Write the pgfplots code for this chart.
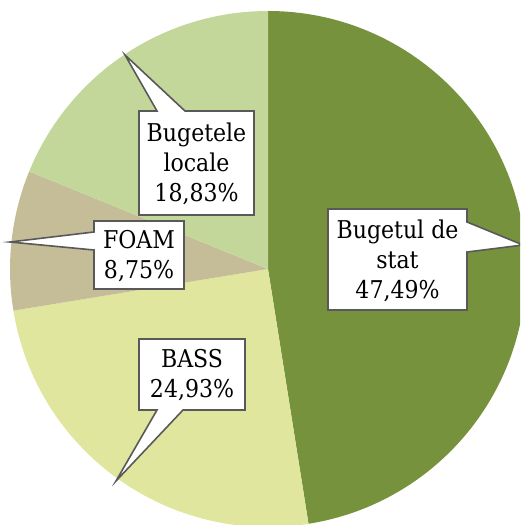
\documentclass[border=0pt]{standalone}
\usepackage{pgfplots}
\pgfplotsset{compat=1.18}
\usepackage{fontspec}
\setmainfont{DejaVu Serif Condensed}
\definecolor{cStat}{HTML}{76923C}
\definecolor{cBass}{HTML}{E0E69D}
\definecolor{cFoam}{HTML}{C4BD97}
\definecolor{cLoc}{HTML}{C4D79B}
\definecolor{cEdge}{HTML}{595959}
% shares (%), clockwise from 12 o'clock
\def\vA{47.49}\def\vB{24.93}\def\vC{8.75}\def\vD{18.83}
\pgfmathsetmacro\aA{90}
\pgfmathsetmacro\aB{\aA-3.6*\vA}
\pgfmathsetmacro\aC{\aB-3.6*\vB}
\pgfmathsetmacro\aD{\aC-3.6*\vC}
\pgfmathsetmacro\aE{\aD-3.6*\vD}
\begin{document}
\begin{tikzpicture}
\useasboundingbox (0,0) rectangle (520pt,525pt);
\begin{axis}[
  at={(0,0)}, anchor=south west,
  scale only axis, width=520pt, height=525pt,
  xmin=0, xmax=520, ymin=0, ymax=525,
  hide axis, clip=true,
]
\def\cx{268}\def\cy{256}\def\R{258}
\fill[cStat] (axis cs:\cx,\cy) -- ++(\aA:\R pt) arc[start angle=\aA, end angle=\aB, radius=\R pt] -- cycle;
\fill[cBass] (axis cs:\cx,\cy) -- ++(\aB:\R pt) arc[start angle=\aB, end angle=\aC, radius=\R pt] -- cycle;
\fill[cFoam] (axis cs:\cx,\cy) -- ++(\aC:\R pt) arc[start angle=\aC, end angle=\aD, radius=\R pt] -- cycle;
\fill[cLoc] (axis cs:\cx,\cy) -- ++(\aD:\R pt) arc[start angle=\aD, end angle=\aE, radius=\R pt] -- cycle;
% callouts
\tikzset{call/.style={fill=white, draw=cEdge, line width=1.6pt, line join=miter},
  lab/.style={align=center, font=\fontsize{24.5}{30}\selectfont, inner sep=0pt}}
\draw[call] (axis cs:139,310) -- (axis cs:139,414) -- (axis cs:157,414) -- (axis cs:125,470) -- (axis cs:185,414) -- (axis cs:254,414) -- (axis cs:254,310) -- cycle;
\node[lab] at (axis cs:196.5,361) {Bugetele\\locale\\18,83\%};
\draw[call] (axis cs:94,236) -- (axis cs:94,275) -- (axis cs:10,283) -- (axis cs:94,293) -- (axis cs:94,304) -- (axis cs:184,304) -- (axis cs:184,236) -- cycle;
\node[lab] at (axis cs:139,269) {FOAM\\8,75\%};
\draw[call] (axis cs:139,115) -- (axis cs:157,115) -- (axis cs:116,44) -- (axis cs:183,115) -- (axis cs:245,115) -- (axis cs:245,186) -- (axis cs:139,186) -- cycle;
\node[lab] at (axis cs:192,149.5) {BASS\\24,93\%};
\draw[call] (axis cs:328,215) -- (axis cs:328,316) -- (axis cs:467,316) -- (axis cs:467,303) -- (axis cs:523,280) -- (axis cs:467,273) -- (axis cs:467,215) -- cycle;
\node[lab] at (axis cs:397.5,264.5) {Bugetul de\\stat\\47,49\%};
\end{axis}
\end{tikzpicture}
\end{document}
